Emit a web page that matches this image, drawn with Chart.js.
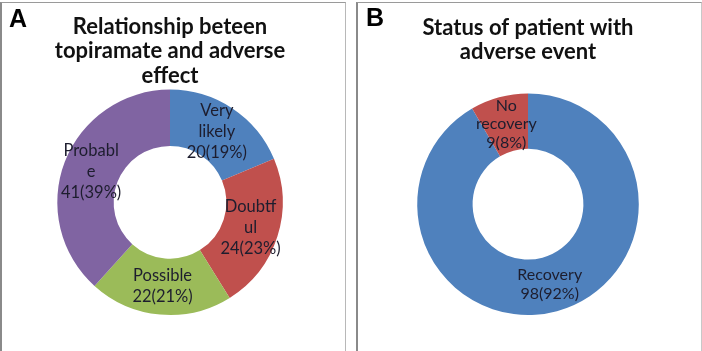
<!DOCTYPE html>
<html lang="en">
<head>
<meta charset="utf-8">
<title>Topiramate adverse effects</title>
<script src="https://cdn.jsdelivr.net/npm/chart.js@4"></script>
<style>
body {margin: 0; background: #fff; width: 702px; height: 351px; overflow: hidden; position: relative;}
.panel {position: absolute; top: 2px; height: 360px; background: #fff; box-sizing: border-box;}
#pA {left: 0; width: 346px; border-left: 2px solid #8a8a8a; border-top: 1px solid #9a9a9a; border-right: 1px solid #b8b8b8;}
#pB {left: 356px; width: 346px; border-left: 2px solid #8a8a8a; border-top: 1px solid #9a9a9a; border-right: 1px solid #c8c8c8;}
.letter {position: absolute; font-family: "Liberation Sans", Arial, sans-serif; font-weight: bold; font-size: 25px; color: #000; z-index: 2;}
canvas {position: absolute; top: 0;}
</style>
</head>
<body>
<div class="panel" id="pA"></div>
<div class="panel" id="pB"></div>
<div class="letter" style="left:9px; top:4px">A</div>
<div class="letter" style="left:366px; top:3px">B</div>
<canvas id="chartA" width="345" height="351" style="left:0"></canvas>
<canvas id="chartB" width="345" height="351" style="left:357px"></canvas>
<script>
// Panel A: relationship between topiramate and adverse effect
var catsA = ['Very likely', 'Doubtful', 'Possible', 'Probable'];
var countsA = [20, 24, 22, 41];
var pctA = ['19%', '23%', '21%', '39%'];
var wrapA = [['Very', 'likely'], ['Doubtf', 'ul'], ['Possible'], ['Probabl', 'e']];
var colorsA = ['#4F81BD', '#C0504D', '#9BBB59', '#8064A2'];

// Panel B: status of patient with adverse event
var catsB = ['Recovery', 'No recovery'];
var countsB = [98, 9];
var pctB = ['92%', '8%'];
var wrapB = [['Recovery'], ['No', 'recovery']];
var colorsB = ['#4F81BD', '#C0504D'];

var textCol = '#1d1d2e';

// draws the slice labels at the middle of each arc
function sliceLabels(wrap, counts, pct, size, lh) {
	return {
		id: 'sliceLabels',
		afterDatasetsDraw: function (chart) {
			var ctx = chart.ctx;
			var arcs = chart.getDatasetMeta(0).data;
			ctx.save();
			ctx.font = size + 'px Lato, "Open Sans", sans-serif';
			ctx.fillStyle = textCol;
			ctx.textAlign = 'center';
			ctx.textBaseline = 'middle';
			arcs.forEach(function (arc, i) {
				var p = arc.tooltipPosition();
				var lines = wrap[i].concat([counts[i] + '(' + pct[i] + ')']);
				var y0 = p.y - (lines.length - 1) * lh / 2;
				lines.forEach(function (l, j) {
					ctx.fillText(l, p.x, y0 + j * lh);
				});
			});
			ctx.restore();
		}
	};
}

function donut(id, cats, counts, colors, title, titlePad, layoutPad, plug) {
	return new Chart(document.getElementById(id), {
		type: 'doughnut',
		data: {
			labels: cats,
			datasets: [{data: counts, backgroundColor: colors, borderWidth: 0}]
		},
		options: {
			responsive: false,
			animation: false,
			cutout: '50%',
			layout: {padding: layoutPad},
			plugins: {
				legend: {display: false},
				tooltip: {enabled: false},
				title: {
					display: true,
					text: title,
					color: '#111',
					font: {family: 'Lato, "Open Sans", sans-serif', size: 22, weight: 'bold', lineHeight: 1.1},
					padding: titlePad
				}
			}
		},
		plugins: [plug]
	});
}

donut('chartA', catsA, countsA, colorsA,
	['Relationship beteen', 'topiramate and adverse', 'effect'],
	{top: 15, bottom: 2}, {left: 0, right: 5, top: 0, bottom: 36},
	sliceLabels(wrapA, countsA, pctA, 16.5, 21));

donut('chartB', catsB, countsB, colorsB,
	['Status of patient with', 'adverse event'],
	{top: 16, bottom: 29}, {left: 0, right: 3, top: 0, bottom: 36},
	sliceLabels(wrapB, countsB, pctB, 16, 18.5));
</script>
</body>
</html>
